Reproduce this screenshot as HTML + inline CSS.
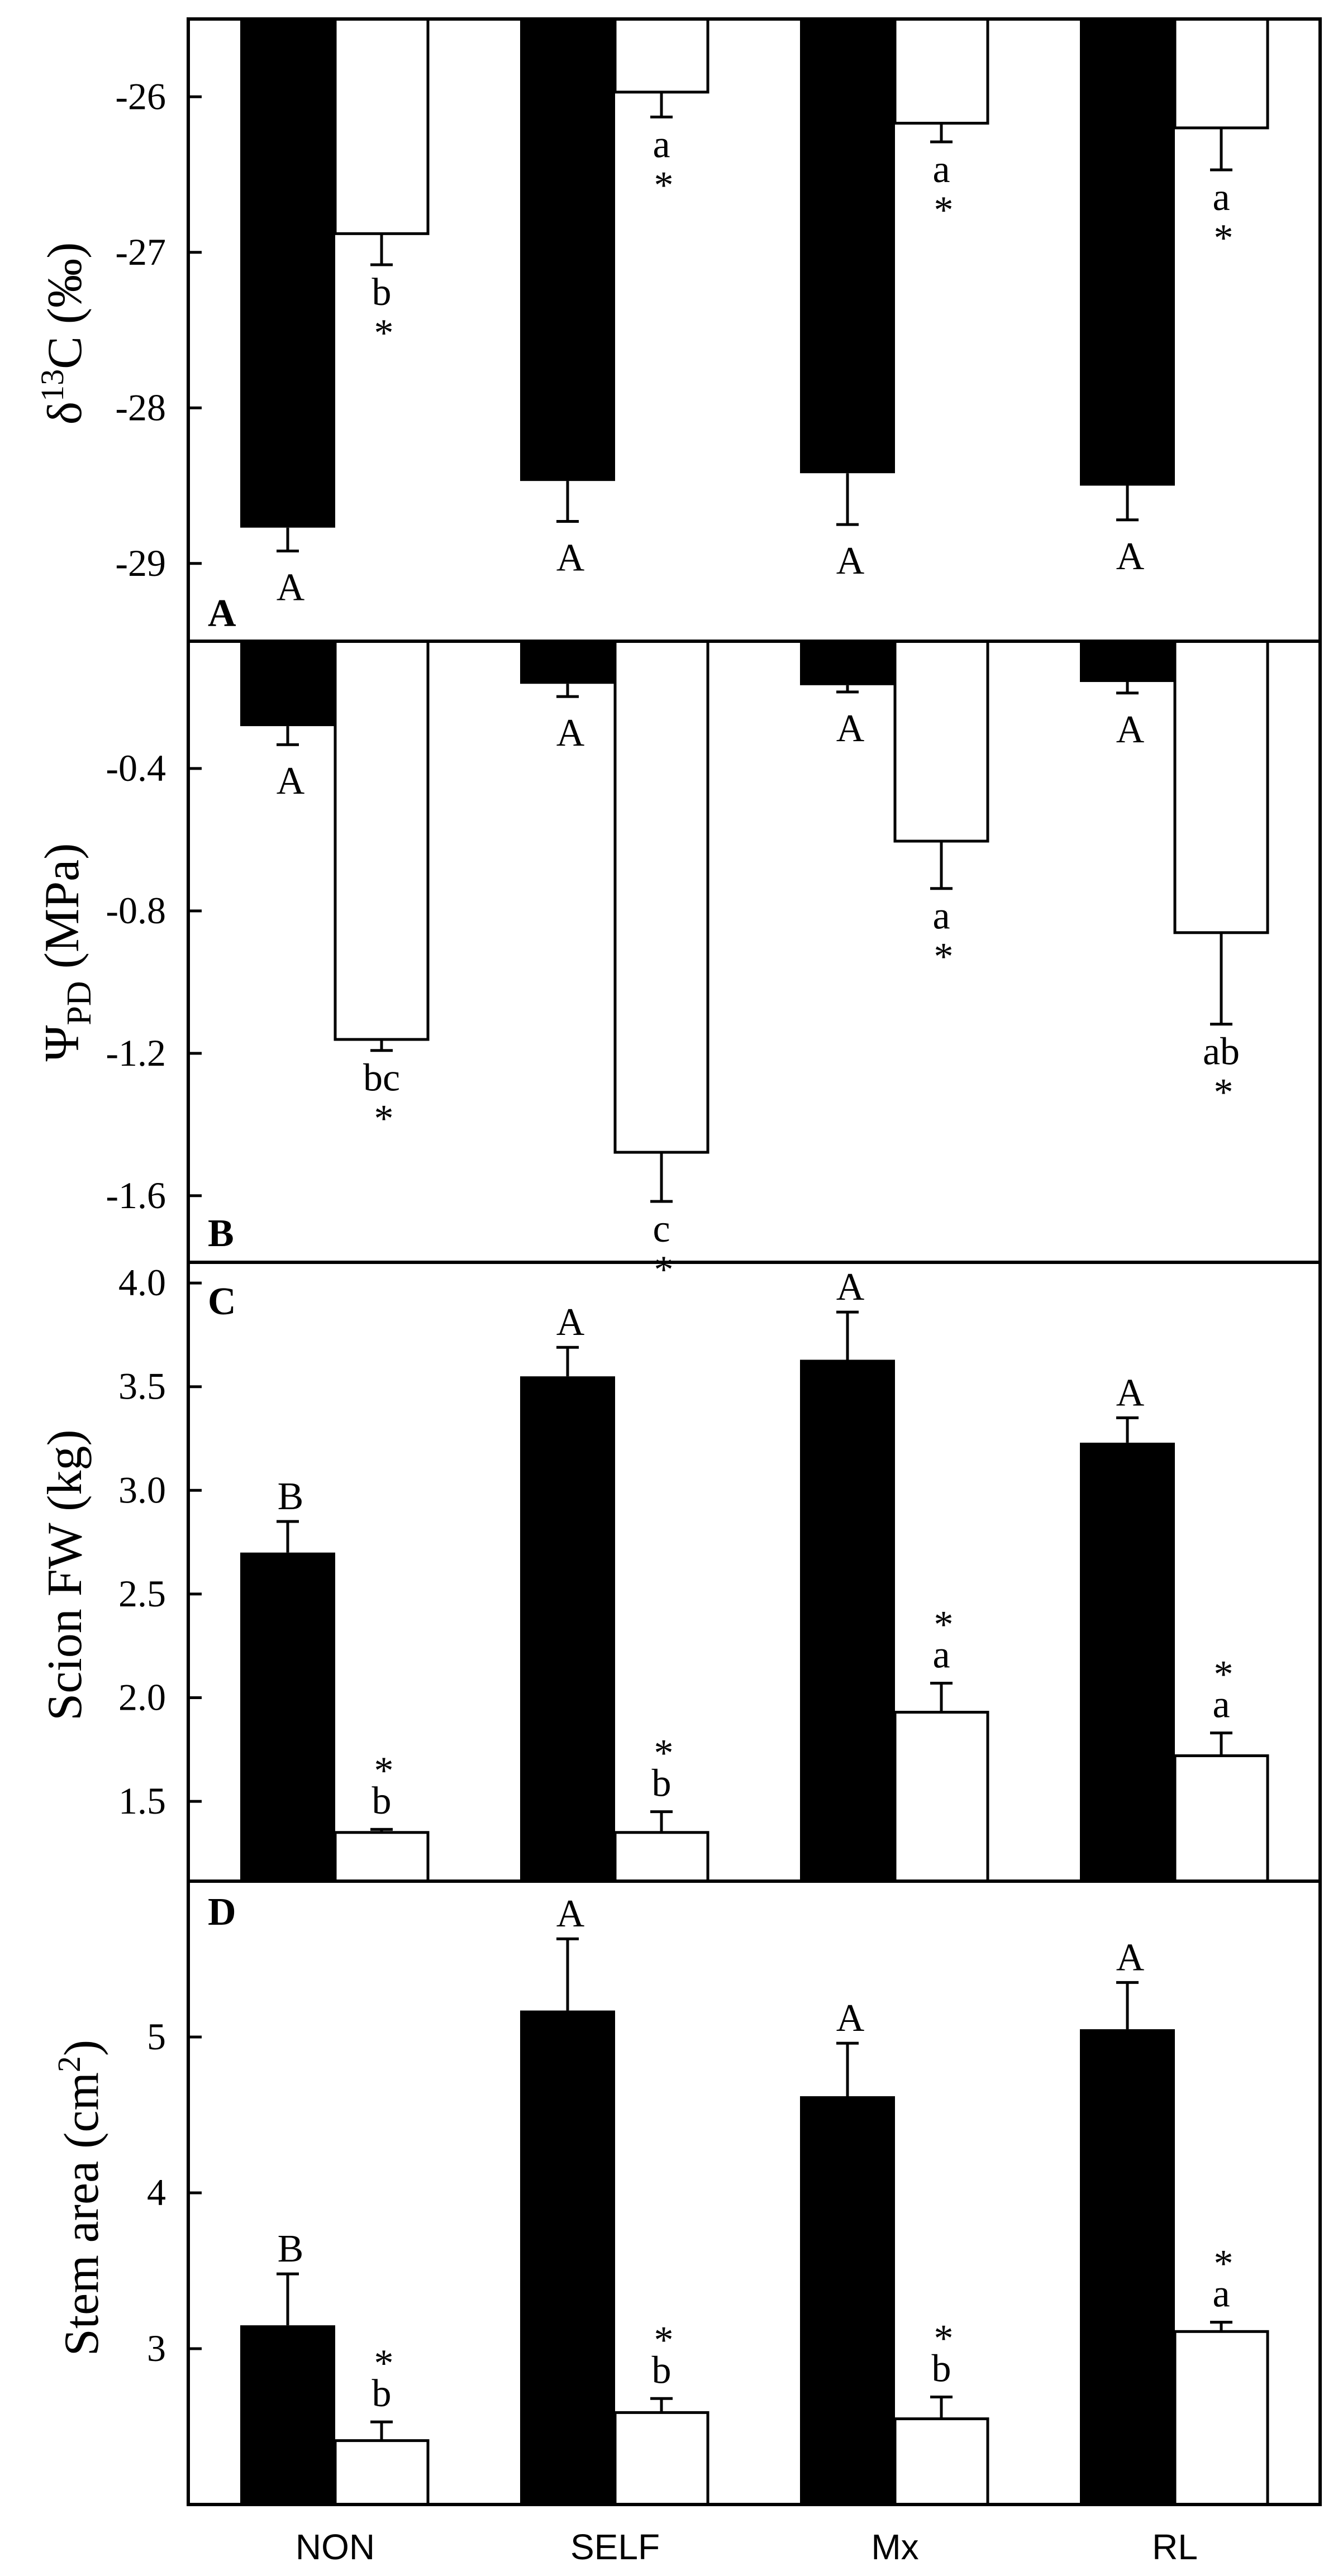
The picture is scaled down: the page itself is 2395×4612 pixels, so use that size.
<!DOCTYPE html>
<html><head><meta charset="utf-8">
<style>
html,body{margin:0;padding:0;background:#fff;}
svg{display:block;}
</style></head>
<body>
<svg id="chart" xmlns="http://www.w3.org/2000/svg" width="2395" height="4612" viewBox="0 0 2395 4612">
<rect x="0" y="0" width="2395" height="4612" fill="#fff"/>
</svg>
<script>
// ---- data ----
const categories = ["NON", "SELF", "Mx", "RL"];

const d13cControl = [-28.77, -28.47, -28.42, -28.50];
const d13cControlErr = [0.15, 0.26, 0.33, 0.22];
const d13cDrought = [-26.88, -25.97, -26.17, -26.20];
const d13cDroughtErr = [0.20, 0.16, 0.12, 0.27];
const d13cControlLabels = ["A", "A", "A", "A"];
const d13cDroughtLabels = ["b", "a", "a", "a"];
const d13cTicks = [-26, -27, -28, -29];

const psiControl = [-0.281, -0.162, -0.166, -0.157];
const psiControlErr = [0.052, 0.036, 0.019, 0.031];
const psiDrought = [-1.161, -1.478, -0.604, -0.861];
const psiDroughtErr = [0.031, 0.138, 0.133, 0.257];
const psiControlLabels = ["A", "A", "A", "A"];
const psiDroughtLabels = ["bc", "c", "a", "ab"];
const psiTicks = [-0.4, -0.8, -1.2, -1.6];

const fwControl = [2.70, 3.55, 3.63, 3.23];
const fwControlErr = [0.15, 0.14, 0.23, 0.12];
const fwDrought = [1.35, 1.35, 1.93, 1.72];
const fwDroughtErr = [0.015, 0.10, 0.14, 0.11];
const fwControlLabels = ["B", "A", "A", "A"];
const fwDroughtLabels = ["b", "b", "a", "a"];
const fwTicks = [4.0, 3.5, 3.0, 2.5, 2.0, 1.5];

const stemControl = [3.15, 5.17, 4.62, 5.05];
const stemControlErr = [0.33, 0.46, 0.34, 0.30];
const stemDrought = [2.41, 2.59, 2.55, 3.11];
const stemDroughtErr = [0.12, 0.09, 0.14, 0.06];
const stemControlLabels = ["B", "A", "A", "A"];
const stemDroughtLabels = ["b", "b", "b", "a"];
const stemTicks = [5, 4, 3];

// ---- layout ----
const NS = "http://www.w3.org/2000/svg";
const svg = document.getElementById("chart");
const X0 = 337, X1 = 2363;
const SERIF = '"Liberation Serif", "DejaVu Serif", serif';
const SANS = '"Liberation Sans", Arial, sans-serif';

function el(tag, attrs, parent) {
  const e = document.createElementNS(NS, tag);
  for (const k in attrs) e.setAttribute(k, attrs[k]);
  (parent || svg).appendChild(e);
  return e;
}
function xBlack(i) { return 430 + 501 * i; }
const BW = 170, WW = 166;

const panels = [
  { key: "a", top: 34, bottom: 1148, vTop: -25.5, vBot: -29.5, ctrl: d13cControl, ctrlErr: d13cControlErr, dr: d13cDrought, drErr: d13cDroughtErr, cl: d13cControlLabels, dl: d13cDroughtLabels, ticks: d13cTicks, fmt: v => String(v), letter: "A", letterY: 1121, dir: -1 },
  { key: "b", top: 1148, bottom: 2260, vTop: -0.0424, vBot: -1.787, ctrl: psiControl, ctrlErr: psiControlErr, dr: psiDrought, drErr: psiDroughtErr, cl: psiControlLabels, dl: psiDroughtLabels, ticks: psiTicks, fmt: v => v.toFixed(1), letter: "B", letterY: 2231, dir: -1 },
  { key: "c", top: 2260, bottom: 3368, vTop: 4.1, vBot: 1.115, ctrl: fwControl, ctrlErr: fwControlErr, dr: fwDrought, drErr: fwDroughtErr, cl: fwControlLabels, dl: fwDroughtLabels, ticks: fwTicks, fmt: v => v.toFixed(1), letter: "C", letterY: 2353, dir: 1 },
  { key: "d", top: 3368, bottom: 4484, vTop: 6.0, vBot: 2.0, ctrl: stemControl, ctrlErr: stemControlErr, dr: stemDrought, drErr: stemDroughtErr, cl: stemControlLabels, dl: stemDroughtLabels, ticks: stemTicks, fmt: v => String(v), letter: "D", letterY: 3446, dir: 1 }
];

panels.forEach(p => {
  const g = el("g", {});
  
  
  const y = v => p.top + (p.vTop - v) / (p.vTop - p.vBot) * (p.bottom - p.top);
  const base = p.dir < 0 ? p.top : p.bottom;

  for (let i = 0; i < categories.length; i++) {
    const xb = xBlack(i);
    const yc = y(p.ctrl[i]);
    const rb = el("rect", { x: xb, y: Math.min(base, yc), width: BW, height: Math.abs(yc - base), fill: "#000" }, g);
    
    
    const cxb = xb + BW / 2;
    const ye = y(p.ctrl[i] + p.dir * p.ctrlErr[i]);
    const eb = el("path", { d: `M${cxb},${yc}V${ye}M${cxb - 20},${ye}H${cxb + 20}`, stroke: "#000", "stroke-width": 5, fill: "none" }, g);
    
    
    const lb = el("text", { x: cxb + 5, y: p.dir < 0 ? ye + 88 : ye - 22, "font-family": SERIF, "font-size": 70, "text-anchor": "middle" }, g);
    lb.textContent = p.cl[i];
    
    

    const xw = xb + BW;
    const yd = y(p.dr[i]);
    const rw = el("rect", { x: xw, y: Math.min(base, yd), width: WW, height: Math.abs(yd - base), fill: "#fff", stroke: "#000", "stroke-width": 5 }, g);
    
    
    const cxw = xw + WW / 2;
    const yde = y(p.dr[i] + p.dir * p.drErr[i]);
    const ew = el("path", { d: `M${cxw},${yd}V${yde}M${cxw - 20},${yde}H${cxw + 20}`, stroke: "#000", "stroke-width": 5, fill: "none" }, g);
    
    
    const lw = el("text", { x: cxw, y: p.dir < 0 ? yde + 72 : yde - 28, "font-family": SERIF, "font-size": 70, "text-anchor": "middle" }, g);
    lw.textContent = p.dl[i];
    
    
    const st = el("text", { x: cxw + 4, y: p.dir < 0 ? yde + 145 : yde - 82, "font-family": SERIF, "font-size": 70, "text-anchor": "middle" }, g);
    st.textContent = "*";
    
    
  }

  const fr = el("rect", { x: X0, y: p.top, width: X1 - X0, height: p.bottom - p.top, fill: "none", stroke: "#000", "stroke-width": 6 }, g);
  
  

  p.ticks.forEach(t => {
    const ty = y(t);
    const tk = el("line", { x1: X0, x2: X0 + 24, y1: ty, y2: ty, stroke: "#000", "stroke-width": 5 }, g);
    
    
    const tl = el("text", { x: X0 - 40, y: ty + 22, "font-family": SERIF, "font-size": 68, "text-anchor": "end" }, g);
    tl.textContent = p.fmt(t);
    
    
  });

  const pl = el("text", { x: 372, y: p.letterY, "font-family": SERIF, "font-size": 70, "font-weight": "bold" }, g);
  pl.textContent = p.letter;
  
  
});

function yTitle(name, cx, cy, build) {
  const t = el("text", { x: 0, y: 0, transform: `translate(${cx},${cy}) rotate(-90)`, "font-family": SERIF, "font-size": 88, "text-anchor": "middle" });
  
  
  build(t);
}
yTitle('y-axis-title-d13c', 145, 597, t => {
  t.innerHTML = 'δ<tspan dy="-32" font-size="58">13</tspan><tspan dy="32">C (‰)</tspan>';
});
yTitle('y-axis-title-psi', 140, 1705, t => {
  t.innerHTML = 'Ψ<tspan dy="22" font-size="62">PD</tspan><tspan dy="-22"> (MPa)</tspan>';
});
yTitle('y-axis-title-scion-fw', 145, 2820, t => { t.textContent = 'Scion FW (kg)'; });
yTitle('y-axis-title-stem-area', 175, 3935, t => {
  t.innerHTML = 'Stem area (cm<tspan dy="-32" font-size="58">2</tspan><tspan dy="32">)</tspan>';
});

categories.forEach((c, i) => {
  const t = el("text", { x: xBlack(i) + BW, y: 4582, "font-family": SANS, "font-size": 64, "text-anchor": "middle" });
  t.textContent = c;
  
  
});
</script>
</body></html>
